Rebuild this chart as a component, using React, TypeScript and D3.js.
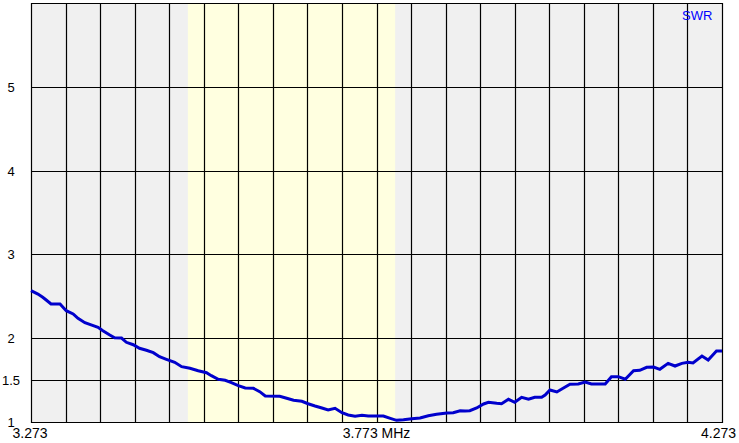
import React from "react";
import * as d3 from "d3";

const W = 739;
const H = 443;

const freqMin = 3.273;
const freqMax = 4.273;
const swrMin = 1;
const swrMax = 6;
const bandStart = 3.5;
const bandEnd = 3.8;
const gridStepMHz = 0.05;
const swrGrid = [1, 1.5, 2, 3, 4, 5, 6];
const swrTickLabels = ["1", "1.5", "2", "3", "4", "5"];
const swrTickValues = [1, 1.5, 2, 3, 4, 5];
const xLabelLeft = "3.273";
const xLabelMid = "3.773 MHz";
const xLabelRight = "4.273";
const seriesName = "SWR";

const freqs = [
  3.273, 3.283, 3.29, 3.295, 3.302, 3.315, 3.324, 3.334, 3.341, 3.351,
  3.36, 3.37, 3.377, 3.387, 3.394, 3.404, 3.411, 3.421, 3.43, 3.44,
  3.45, 3.459, 3.469, 3.481, 3.491, 3.503, 3.515, 3.527, 3.534, 3.544,
  3.554, 3.563, 3.573, 3.583, 3.595, 3.604, 3.612, 3.633, 3.643, 3.653,
  3.665, 3.674, 3.684, 3.694, 3.703, 3.713, 3.723, 3.732, 3.742, 3.752,
  3.761, 3.783, 3.793, 3.802, 3.812, 3.824, 3.836, 3.848, 3.86, 3.875,
  3.884, 3.894, 3.901, 3.908, 3.918, 3.928, 3.935, 3.947, 3.954, 3.964,
  3.973, 3.983, 3.993, 4.002, 4.012, 4.017, 4.024, 4.034, 4.043, 4.053,
  4.065, 4.075, 4.084, 4.104, 4.113, 4.123, 4.133, 4.145, 4.154, 4.164,
  4.174, 4.183, 4.195, 4.205, 4.215, 4.224, 4.231, 4.244, 4.253, 4.265,
  4.273,
];

const swr = [
  2.567, 2.527, 2.488, 2.456, 2.408, 2.408, 2.328, 2.289, 2.237, 2.185,
  2.158, 2.13, 2.09, 2.038, 2.006, 2.002, 1.951, 1.922, 1.88, 1.856,
  1.827, 1.779, 1.748, 1.712, 1.66, 1.641, 1.612, 1.588, 1.553, 1.51,
  1.498, 1.469, 1.434, 1.406, 1.402, 1.362, 1.31, 1.307, 1.283, 1.259,
  1.247, 1.218, 1.191, 1.167, 1.143, 1.163, 1.111, 1.084, 1.068, 1.08,
  1.072, 1.072, 1.044, 1.02, 1.027, 1.039, 1.048, 1.075, 1.092, 1.107,
  1.111, 1.135, 1.131, 1.135, 1.167, 1.215, 1.235, 1.223, 1.218, 1.271,
  1.235, 1.295, 1.271, 1.295, 1.295, 1.322, 1.382, 1.358, 1.402, 1.45,
  1.453, 1.477, 1.453, 1.453, 1.541, 1.541, 1.51, 1.612, 1.617, 1.653,
  1.656, 1.629, 1.7, 1.668, 1.7, 1.712, 1.704, 1.788, 1.74, 1.847,
  1.847,
];

export default function App() {
  const left = 31;
  const right = 722;
  const top = 3;
  const bottom = 422;

  const x = d3.scaleLinear().domain([freqMin, freqMax]).range([left, right]);
  const y = d3.scaleLinear().domain([swrMin, swrMax]).range([bottom, top]);

  const nV = Math.round((freqMax - freqMin) / gridStepMHz);
  const vLines = d3.range(nV + 1).map((i) => freqMin + i * gridStepMHz);

  const pts = freqs.map((f, i) => [f, swr[i]] as [number, number]);
  const line = d3
    .line<[number, number]>()
    .x((d) => x(d[0]))
    .y((d) => y(d[1]));

  const font = "'Liberation Sans', Arial, sans-serif";
  const crisp = (v: number) => Math.round(v) + 0.5;

  return (
    <svg
      width={W}
      height={H}
      style={{ position: "absolute", left: 0, top: 0, background: "#ffffff" }}
    >
      <rect x={left} y={top} width={right - left} height={bottom - top} fill="#f0f0f0" />
      <rect
        x={x(bandStart)}
        y={top}
        width={x(bandEnd) - x(bandStart)}
        height={bottom - top}
        fill="#ffffe0"
      />
      {vLines.map((f, i) => (
        <line
          key={"v" + i}
          x1={crisp(x(f))}
          x2={crisp(x(f))}
          y1={top}
          y2={bottom + 1}
          stroke="#000"
          strokeWidth={1.2}
        />
      ))}
      {swrGrid.map((s, i) => (
        <line
          key={"h" + i}
          x1={left}
          x2={right + 1}
          y1={crisp(y(s))}
          y2={crisp(y(s))}
          stroke="#000"
          strokeWidth={1.2}
        />
      ))}
      <path
        d={line(pts) || ""}
        fill="none"
        stroke="#0000cc"
        strokeWidth={3}
        strokeLinejoin="miter"
      />
      {swrTickValues.map((v, i) => (
        <text
          key={"yl" + i}
          x={11}
          y={y(v) + 5}
          textAnchor="middle"
          fontFamily={font}
          fontSize={13}
          fill="#000"
        >
          {swrTickLabels[i]}
        </text>
      ))}
      <text x={x(freqMin) - 1} y={438} textAnchor="middle" fontFamily={font} fontSize={14} fill="#000">
        {xLabelLeft}
      </text>
      <text x={(left + right) / 2} y={438} textAnchor="middle" fontFamily={font} fontSize={14} fill="#000">
        {xLabelMid}
      </text>
      <text x={736} y={438} textAnchor="end" fontFamily={font} fontSize={14} fill="#000">
        {xLabelRight}
      </text>
      <text x={682} y={20} fontFamily={font} fontSize={13} fill="#0000ff">
        {seriesName}
      </text>
    </svg>
  );
}
